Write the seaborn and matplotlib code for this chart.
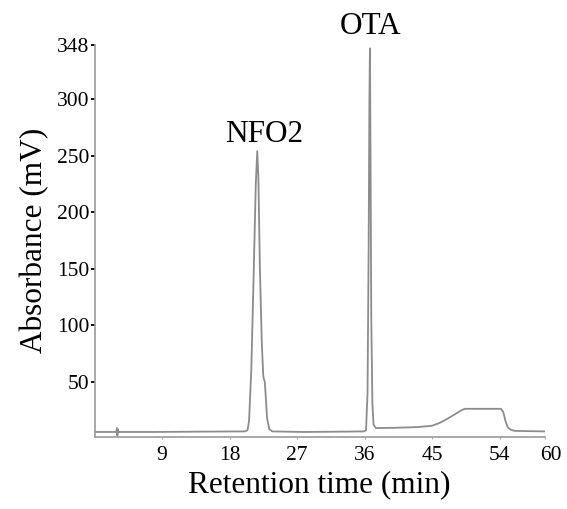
import pandas as pd
import matplotlib
matplotlib.use('Agg')
import matplotlib.pyplot as plt
import matplotlib.transforms as mtrans
import seaborn as sns

# chromatogram points (min, mV)
zaman = [0.0, 2.9, 3.0, 3.05, 3.1, 3.15, 3.25, 8.0, 14.0, 20.0, 20.4, 20.6, 20.9, 21.2,
         21.5, 21.7, 21.85, 22.05, 22.3, 22.5, 22.6, 22.7, 22.8, 23.0, 23.3, 23.7,
         28.0, 33.0, 35.9, 36.2, 36.4, 36.55, 36.65, 36.72, 36.8, 36.9, 37.05, 37.2,
         37.5, 40.0, 43.0, 45.0, 46.0, 47.0, 48.0, 49.0, 49.4, 54.2, 54.5, 54.8,
         55.1, 55.5, 56.0, 58.0, 60.0]
absorbans = [5.5, 5.5, 9.0, 2.5, 8.0, 5.5, 5.5, 5.5, 5.8, 6.0, 7.0, 15.0, 60.0, 140.0,
             225.0, 254.0, 230.0, 150.0, 85.0, 55.0, 52.0, 50.0, 40.0, 18.0, 8.0, 6.0,
             5.5, 5.8, 6.0, 7.0, 40.0, 170.0, 300.0, 345.0, 250.0, 105.0, 30.0, 12.0,
             9.0, 9.2, 9.8, 11.0, 13.5, 17.0, 21.0, 25.0, 26.0, 26.0, 23.0, 15.0,
             9.5, 7.5, 6.5, 6.2, 6.0]

y_ticks = [50, 100, 150, 200, 250, 300, 348]
x_ticks = [9, 18, 27, 36, 45, 54, 60]

df = pd.DataFrame({'Zaman': zaman, 'Absorbans': absorbans})

sns.set_style('white')
plt.rcParams['font.family'] = ['Liberation Serif', 'DejaVu Serif']
plt.rcParams['text.color'] = 'black'
plt.rcParams['xtick.labelcolor'] = 'black'
plt.rcParams['ytick.labelcolor'] = 'black'
plt.rcParams['axes.labelcolor'] = 'black'

fig = plt.figure(figsize=(5.67, 5.09), dpi=100)
ax = fig.add_axes([0.1667, 0.142, 0.7937, 0.7696])

sns.lineplot(data=df, x='Zaman', y='Absorbans', color='#8c8c8c', linewidth=1.3, ax=ax)

ax.set_xlim(0, 60)
ax.set_ylim(1.3, 348)

ax.set_yticks(y_ticks)
ax.set_xticks(x_ticks)
ax.tick_params(axis='y', direction='out', length=3, width=1.3, color='black',
               pad=0.5, labelsize=15.5, left=True)
ax.tick_params(axis='x', direction='out', length=1.5, width=0.8, color='#aaaaaa',
               pad=5, labelsize=15.5, bottom=True)

# the "60" label sits a little to the right in the original
son = ax.get_xticklabels()[-1]
son.set_transform(son.get_transform() + mtrans.ScaledTranslation(6 / 100, 0, fig.dpi_scale_trans))

for s in ['top', 'right']:
    ax.spines[s].set_visible(False)
for s in ['left', 'bottom']:
    ax.spines[s].set_color('#9a9a9a')
    ax.spines[s].set_linewidth(1.2)

ax.set_xlabel('Retention time (min)', fontsize=22.5, labelpad=4)
ax.set_ylabel('Absorbance (mV)', fontsize=22.5, labelpad=6)

ax.text(22.6, 262, 'NFO2', fontsize=22.5, ha='center', va='baseline')
ax.text(36.8, 358, 'OTA', fontsize=22.5, ha='center', va='baseline')

plt.savefig('out.png', dpi=100)
